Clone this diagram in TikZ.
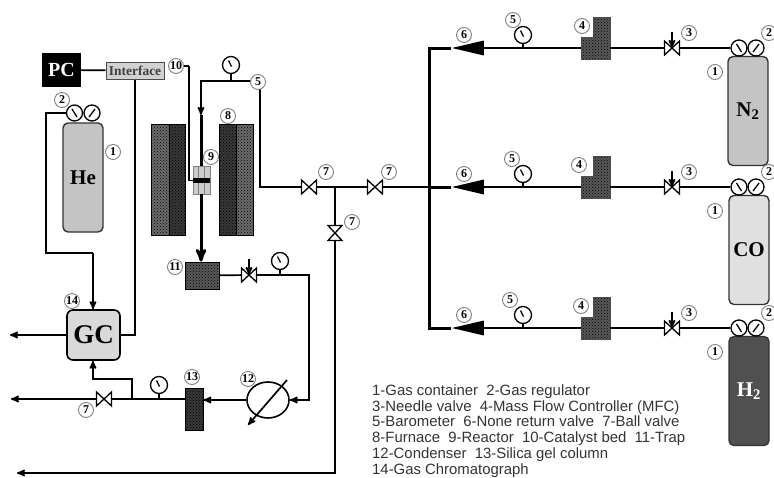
\documentclass[tikz,border=0pt]{standalone}
\usepackage{fontspec}
\setmainfont{Liberation Serif}
\setsansfont{Liberation Sans}
\usetikzlibrary{shapes.geometric,arrows,patterns}
\definecolor{cylgray}{HTML}{C4C4C4}
\definecolor{cyllight}{HTML}{E0E0E0}
\definecolor{cyldark}{HTML}{505050}
\tikzset{
	pipe/.style={line width=1.7pt},
	mainpipe/.style={line width=3pt},
	num/.style={circle, draw=gray, line width=0.9pt, fill=white, inner sep=0pt, minimum size=15pt, font=\bfseries\fontsize{12}{12}\selectfont},
	cyl/.style={draw=black!80, line width=1.4pt, rounded corners=5pt, minimum width=40pt, minimum height=109pt, inner sep=0pt, font=\bfseries\fontsize{21}{21}\selectfont},
	dial/.style={circle, draw, line width=1.3pt, fill=white, inner sep=0pt, minimum size=16pt},
	regleft/.style={dial, path picture={\draw[line width=1.3pt] (path picture bounding box.center) ++(-2.5,-4) -- ++(5,8);}},
	regright/.style={dial, path picture={\draw[line width=1.3pt] (path picture bounding box.center) ++(3,-4) -- ++(-6,8);}},
	baro/.style={dial, minimum size=17pt, path picture={\draw[line width=1.3pt] (path picture bounding box.center) ++(-2.5,-4.5) -- ++(3,6);}},
	dots/.style={inner sep=0pt, draw=black!70, line width=0.6pt, preaction={fill=#1}, pattern=crosshatch dots, pattern color=black},
	oneway/.style={isosceles triangle, isosceles triangle stretches, shape border rotate=180, fill=black, inner sep=0pt, minimum height=32pt, minimum width=15pt},
	valve/.pic={
		\node (-c) [inner sep=0pt, minimum size=15pt] {};
		\draw[line width=1.3pt, fill=white] (-7.5,-7) -- (-7.5,7) -- (7.5,-7) -- (7.5,7) -- cycle;
	}
}
\begin{document}
\begin{tikzpicture}[>=stealth', x=1pt, y=-1pt]
	\useasboundingbox (0,0) rectangle (774,477);
	% gas supply
	\draw [mainpipe] (429,46.5) -- (429,329.5);
	\coordinate (topend) at (429,48);
	\coordinate (midend) at (429,187);
	\coordinate (lowend) at (429,328);
	\foreach \g/\y/\five/\four/\cfill/\ctext/\ccol/\cx in {top/48/513/582/cylgray/N\textsubscript{2}/black/748,mid/187/512/579/cyllight/CO/black/749,low/328/510/581/cyldark/H\textsubscript{2}/white/749} {
		\node (\g cyl) [cyl, fill=\cfill, text=\ccol] at (\cx,\y+63) {\ctext};
		\node (\g rega) [regleft] at (739,\y) {};
		\node (\g regb) [regright] at (756,\y) {};
		\pic (\g needle) at (672,\y) {valve};
		\node (\g low) [dots=gray!70!black, minimum width=13pt, minimum height=22pt] at (587.5,\y) {};
		\node (\g tall) [dots=gray!70!black, minimum width=17pt, minimum height=42pt] at (601.5,\y-10) {};
		\node (\g baro) [baro] at (523,\y-13) {};
		\coordinate (\g tee) at (523,\y);
		\node (\g check) [oneway] at (478,\y) {};
		\draw [pipe] (\g rega) -- (\g needle-c);
		\draw [pipe] (\g needle-c) -- (\g tall.east |- \g tee);
		\draw [pipe] (\g low) -- (\g tee) -- (\g check.east);
		\draw [pipe] (\g baro) -- (\g tee);
		\draw [mainpipe] (\g check.apex) -- (\g end);
		\draw [->, pipe] (672,\y-16) -- (\g needle-c.center);
		\node (\g two) [num] at (769,\y-15) {2};
		\node (\g three) [num] at (689,\y-15) {3};
		\node (\g four) [num] at (\four,\y-22) {4};
		\node (\g five) [num] at (\five,\y-28) {5};
		\node (\g six) [num] at (464,\y-13) {6};
		\node (\g one) [num] at (715,\y+24) {1};
	}
	% reactor section
	\node (furnlo) [dots=gray!85!black, draw=black, minimum width=18pt, minimum height=111pt] at (160,179.5) {};
	\node (furnli) [dots=gray!45!black, draw=black, minimum width=16pt, minimum height=111pt] at (177,179.5) {};
	\node (furnri) [dots=gray!45!black, draw=black, minimum width=17pt, minimum height=111pt] at (227.5,179.5) {};
	\node (furnro) [dots=gray!85!black, draw=black, minimum width=17pt, minimum height=111pt] at (244.5,179.5) {};
	\node (reactor) [draw=gray, fill=gray!40, line width=0.8pt, minimum width=17pt, minimum height=28pt, inner sep=0pt] at (201.5,180) {};
	\draw [gray, line width=0.6pt] (reactor.north) ++(-3,0) -- ++(0,28) ++(6,-28) -- ++(0,28);
	\node (bed) [fill=black, minimum width=17pt, minimum height=5pt, inner sep=0pt] at (201.5,180.5) {};
	\node (trap) [dots=gray!70!black, draw=black, line width=1pt, minimum width=34pt, minimum height=27pt] at (202,275.5) {};
	\node (pc) [fill=black, text=white, minimum width=39pt, minimum height=34pt, inner sep=0pt, font=\bfseries\fontsize{20}{20}\selectfont] at (61.5,70) {PC};
	\node (interface) [draw=black!70, fill=gray!35, text=black!75, line width=1pt, minimum width=58pt, minimum height=17pt, inner sep=0pt, font=\bfseries\fontsize{13.5}{13.5}\selectfont] at (135,70.5) {Interface};
	\node (he) [cyl, fill=cylgray] at (83,177.5) {He};
	\node (hea) [regleft] at (74.5,113) {};
	\node (heb) [regright] at (92,113) {};
	\node (gc) [draw, fill=gray!30, line width=1.6pt, rounded corners=6pt, minimum width=53pt, minimum height=50pt, inner sep=0pt, font=\bfseries\fontsize{27}{27}\selectfont] at (93.5,335) {GC};
	\node (silica) [dots=gray!45!black, draw=black, line width=1pt, minimum width=18pt, minimum height=42pt] at (194,409) {};
	\node (condenser) [ellipse, draw, line width=1.6pt, fill=white, minimum width=42pt, minimum height=36pt, inner sep=0pt] at (268,400) {};
	\pic (vfurn) at (309,187) {valve};
	\pic (vhead) at (375,187) {valve};
	\pic [rotate=90] (vvent) at (335,233) {valve};
	\pic (vtrap) at (249,275) {valve};
	\pic (vout) at (104,399) {valve};
	\node (barotop) [baro] at (231,65) {};
	\node (barotrap) [baro] at (280,261) {};
	\node (barosil) [baro] at (159,385) {};
	\coordinate (ctop) at (201,81);
	\coordinate (cbaro) at (231,81);
	\coordinate (cturn) at (260,81);
	\coordinate (cdown) at (260,187);
	\coordinate (cflow) at (201,115);
	\coordinate (ctee) at (335,187);
	\coordinate (cbend) at (189,66);
	\coordinate (cttrap) at (280,275);
	\coordinate (cright) at (309,275);
	\coordinate (ccond) at (309,400);
	\coordinate (csil) at (159,399);
	\coordinate (cjoin) at (132,399);
	\coordinate (cup) at (132,379);
	\coordinate (cgc) at (93,379);
	\coordinate (coutl) at (11,399);
	\coordinate (cgcl) at (10,335);
	\coordinate (cifd) at (135,335);
	\coordinate (cvb) at (335,473);
	\coordinate (cvl) at (17,473);
	\coordinate (che) at (46,113);
	\coordinate (cheb) at (46,253);
	\coordinate (chec) at (93,253);
	\draw [pipe] (pc) -- (interface);
	\draw [pipe] (interface.south -| cifd) -- (cifd) -- (gc.east |- cifd);
	\draw [pipe] (hea) -- (che) -- (cheb) -- (chec);
	\draw [->, pipe] (chec) -- (gc.north -| chec);
	\draw [->, pipe] (gc) -- (cgcl);
	\draw [->, pipe] (cjoin) -- (cup) -- (cgc) -- (gc.south -| cgc);
	\draw [pipe] (silica.west |- csil) -- (csil) -- (cjoin) -- (vout-c);
	\draw [->, pipe] (vout-c) -- (coutl);
	\draw [pipe] (barosil) -- (csil);
	\draw [->, pipe] (condenser) -- (silica.east |- condenser);
	\draw [->, pipe] (cttrap) -- (cright) -- (ccond) -- (condenser);
	\draw [pipe] (trap) -- (vtrap-c);
	\draw [pipe] (vtrap-c) -- (cttrap);
	\draw [pipe] (barotrap) -- (cttrap);
	\draw [->, pipe] (249,259) -- (vtrap-c.center);
	\draw [->, pipe] (287,380) -- (248,425);
	\draw [->, pipe] (cturn) -- (ctop) -- (cflow);
	\draw [mainpipe] (cflow) -- (reactor.north -| cflow);
	\draw [->, mainpipe] (reactor.south -| cflow) -- (trap.north -| cflow);
	\draw [pipe] (barotop) -- (cbaro);
	\draw [pipe] (cturn) -- (cdown) -- (vfurn-c);
	\draw [pipe] (vfurn-c) -- (ctee) -- (vhead-c);
	\draw [pipe] (vhead-c) -- (midend);
	\draw [pipe] (ctee) -- (vvent-c);
	\draw [->, pipe] (vvent-c) -- (cvb) -- (cvl);
	\draw [pipe] (bed) -| (cbend);
	% labels
	\node (nten) [num] at (176,66) {10};
	\draw [pipe] (nten) -- (cbend);
	\node (nfive) [num] at (258,82) {5};
	\node (nhea) [num] at (62,100) {2};
	\node (nheb) [num] at (113,152) {1};
	\node (neight) [num] at (228,116) {8};
	\node (nnine) [num] at (211,157) {9};
	\node (nvfurn) [num] at (326,172) {7};
	\node (nvhead) [num] at (389,172) {7};
	\node (nvvent) [num] at (352,222) {7};
	\node (nvout) [num] at (86,410) {7};
	\node (ntrap) [num] at (175,267) {11};
	\node (ngc) [num] at (72,301) {14};
	\node (nsil) [num] at (192,377) {13};
	\node (ncond) [num] at (248,379) {12};
	\node (legend) [anchor=north west, align=left, inner sep=0pt, text=black!80, font=\sffamily\fontsize{14.9}{15.7}\selectfont] at (372,384.5) {1-Gas container\ \ 2-Gas regulator\\3-Needle valve\ \ 4-Mass Flow Controller (MFC)\\5-Barometer\ \ 6-None return valve\ \ 7-Ball valve\\8-Furnace\ \ 9-Reactor\ \ 10-Catalyst bed\ \ 11-Trap\\12-Condenser\ \ 13-Silica gel column\\14-Gas Chromatograph};
\end{tikzpicture}
\end{document}
